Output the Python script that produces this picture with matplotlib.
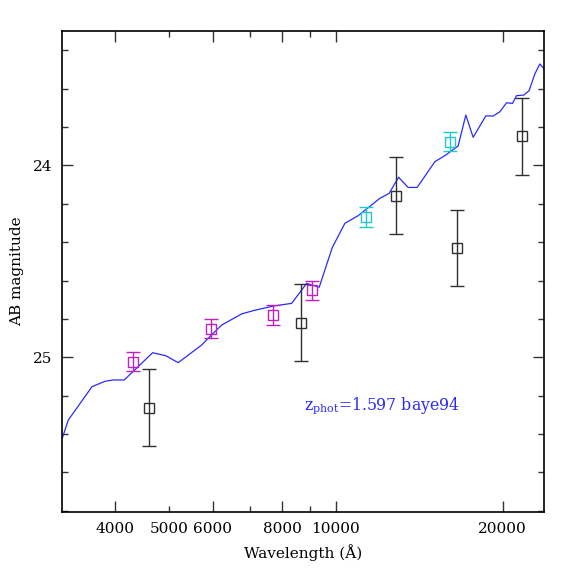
import matplotlib
matplotlib.use("Agg")
import matplotlib.pyplot as plt
from matplotlib import ticker

plt.rcParams['font.family'] = ['DejaVu Serif']
plt.rcParams['mathtext.fontset'] = 'dejavuserif'

# best-fit template (wavelength in Angstrom, AB mag)
sed_wave = [3210, 3290, 3631, 3832, 3967, 4152, 4672, 4937, 5195, 5727, 5886,
            6223, 6763, 7096, 7712, 8325, 8859, 9335, 9853, 10387, 10978,
            12010, 12484, 12983, 13510, 14024, 15098, 15802, 16630, 17170,
            17701, 18660, 19235, 19778, 20336, 20848, 21197, 21851, 22335,
            22871, 23350, 23740]
sed_mag = [25.42, 25.327, 25.153, 25.125, 25.118, 25.118, 24.976, 24.992,
           25.028, 24.936, 24.901, 24.832, 24.774, 24.757, 24.733, 24.719,
           24.615, 24.635, 24.429, 24.302, 24.262, 24.172, 24.146, 24.062,
           24.115, 24.115, 23.981, 23.946, 23.899, 23.738, 23.854, 23.742,
           23.743, 23.721, 23.674, 23.677, 23.637, 23.634, 23.611, 23.524,
           23.472, 23.495]

# photometry
mag_wave = [4311, 5953, 7709, 9070]
mag_mag = [25.023, 24.851, 24.78, 24.65]
mag_err = [0.05, 0.05, 0.05, 0.05]

cyan_wave = [11335, 16087]
cyan_mag = [24.269, 23.877]
cyan_err = [0.05, 0.05]

blk_wave = [4601, 8640, 12831, 16541, 21667]
blk_mag = [25.262, 24.82, 24.158, 24.43, 23.849]
blk_err = [0.2, 0.2, 0.2, 0.2, 0.2]

xmajor = [4000, 6000, 8000, 10000, 20000]
xminor = [5000, 7000, 9000]
xminor_labels = ['5000', '', '']
ymajor = [24, 25]
yminor = [23.4, 23.6, 23.8, 24.2, 24.4, 24.6, 24.8, 25.2, 25.4, 25.6, 25.8]

fig = plt.figure(figsize=(5.74, 5.74), dpi=100)
ax = fig.add_axes([0.108, 0.108, 0.839, 0.838])

ax.plot(sed_wave, sed_mag, color='#2a2aff', lw=0.9, zorder=2)

kw = dict(fmt='s', mfc='none', ms=7.5, mew=1.0, capsize=4.8, elinewidth=1.0,
          capthick=1.0, zorder=3)
ax.errorbar(blk_wave, blk_mag, yerr=blk_err, color='#303030', **kw)
ax.errorbar(mag_wave, mag_mag, yerr=mag_err, color='#c020c0', **kw)
ax.errorbar(cyan_wave, cyan_mag, yerr=cyan_err, color='#20c8d0', **kw)

ax.set_xscale('log')
ax.set_xlim(3205, 23720)
ax.set_ylim(25.806, 23.30)

ax.xaxis.set_major_locator(ticker.FixedLocator(xmajor))
ax.xaxis.set_major_formatter(ticker.FixedFormatter([str(v) for v in xmajor]))
ax.xaxis.set_minor_locator(ticker.FixedLocator(xminor))
ax.xaxis.set_minor_formatter(ticker.FixedFormatter(xminor_labels))
ax.yaxis.set_major_locator(ticker.FixedLocator(ymajor))
ax.yaxis.set_major_formatter(ticker.FixedFormatter([str(v) for v in ymajor]))
ax.yaxis.set_minor_locator(ticker.FixedLocator(yminor))

ax.tick_params(which='both', direction='in', top=True, right=True,
               labelsize=11, pad=7, color='#333333')
ax.tick_params(which='major', length=7.7, width=1.0)
ax.tick_params(which='minor', length=4.0, width=1.0)
for s in ax.spines.values():
    s.set_linewidth(1.2)

ax.set_xlabel('Wavelength (Å)', fontsize=11, labelpad=6)
ax.set_ylabel('AB magnitude', fontsize=11, labelpad=6)

ax.text(8760, 25.25, r'z$_{\mathrm{phot}}$=1.597 baye94', color='#2a2aff',
        fontsize=11.3, va='center', ha='left')

fig.savefig('out.png', dpi=100)
